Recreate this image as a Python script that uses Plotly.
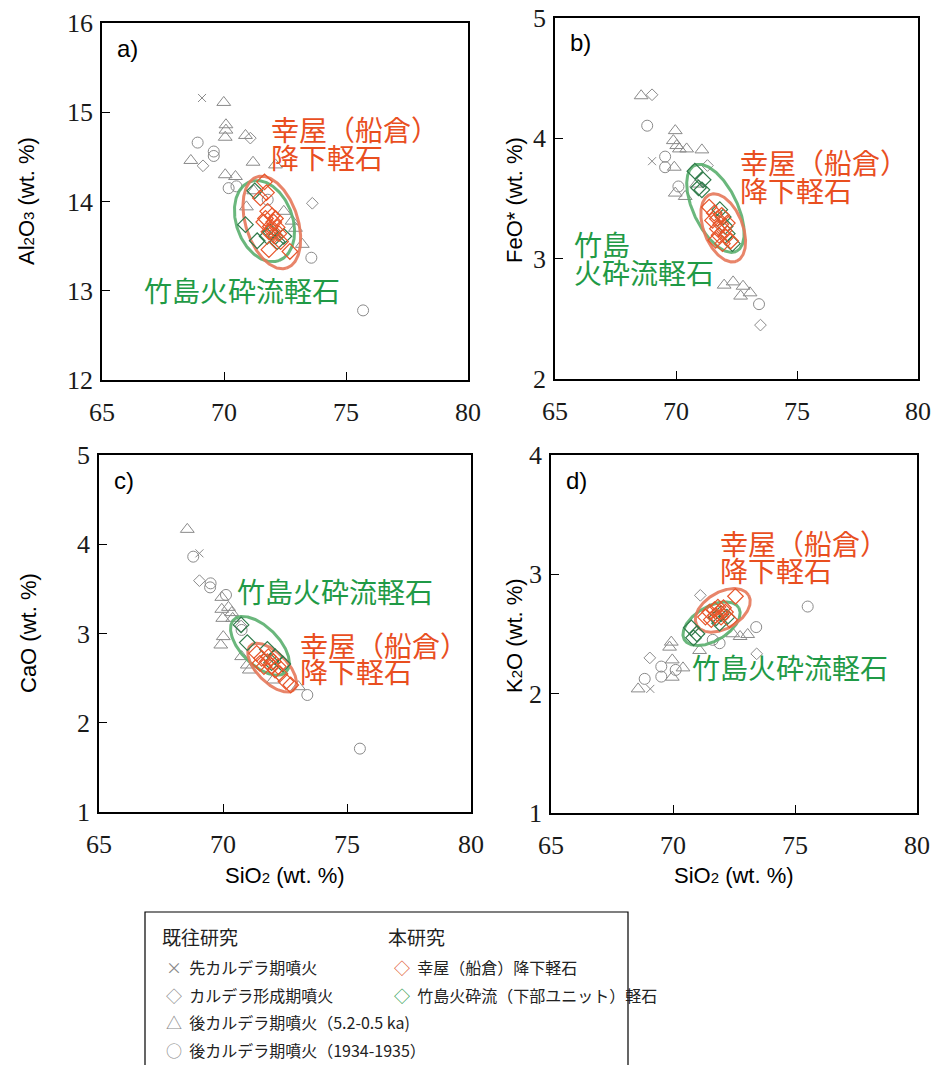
import numpy as np
import plotly.graph_objects as go

W, H = 932, 1065

# ---------------- data (SiO2, oxide) ----------------
# Panel a: Al2O3
a_pre = [(69.10, 15.16)]
a_cald = [(71.08, 14.71), (69.14, 14.40), (73.62, 13.98)]
a_post = [(69.99, 15.11), (70.08, 14.86), (70.08, 14.80), (70.05, 14.72), (70.88, 14.74),
          (68.64, 14.46), (71.19, 14.44), (72.11, 14.41), (70.05, 14.30), (70.47, 14.28),
          (70.92, 13.94), (72.45, 13.89), (72.79, 13.78), (72.93, 13.70), (73.21, 13.52),
          (71.22, 14.12)]
a_hist = [(68.92, 14.66), (69.58, 14.56), (69.58, 14.51), (70.19, 14.15), (70.51, 14.17),
          (71.79, 14.02), (73.58, 13.37), (75.70, 12.78)]
a_koya = [(71.66, 14.22), (71.74, 14.10), (71.49, 14.04), (71.79, 13.89), (71.97, 13.84),
          (71.70, 13.81), (72.04, 13.77), (71.90, 13.72), (72.18, 13.71), (72.01, 13.66),
          (71.84, 13.66), (72.25, 13.64), (72.04, 13.62), (72.32, 13.55), (71.84, 13.46),
          (72.70, 13.44), (71.63, 13.77), (72.11, 13.81)]
a_take = [(71.26, 14.12), (70.88, 13.74), (71.36, 13.56), (71.90, 13.66), (72.11, 13.61),
          (72.45, 13.61), (72.18, 13.55), (71.77, 13.61)]
# ellipse: centre x, centre y, axis-1 (dx, dy), axis-2 (dx, dy)
a_ell_koya = (71.96, 13.765, 0.608, -0.511, 1.015, 0.090)
a_ell_take = (71.66, 13.78, 0.590, -0.442, 1.082, 0.107)

# Panel b: FeO*
b_pre = [(69.01, 3.810)]
b_cald = [(69.01, 4.362), (71.30, 3.774), (73.49, 2.448)]
b_post = [(68.56, 4.354), (69.97, 4.064), (69.89, 3.981), (70.03, 3.940), (70.14, 3.912),
          (70.44, 3.912), (71.07, 3.904), (69.93, 3.760), (69.97, 3.545), (70.38, 3.517),
          (70.85, 3.62), (71.99, 2.780), (72.36, 2.807), (72.77, 2.771), (72.67, 2.689),
          (73.06, 2.716)]
b_hist = [(68.81, 4.105), (69.55, 3.848), (69.55, 3.760), (70.10, 3.600), (73.43, 2.622)]
b_koya = [(71.37, 3.429), (71.58, 3.379), (71.71, 3.332), (71.51, 3.318), (71.85, 3.285),
          (71.71, 3.249), (71.99, 3.235), (71.78, 3.194), (72.06, 3.180), (71.64, 3.153),
          (71.92, 3.125), (72.26, 3.147), (71.89, 3.360), (72.12, 3.296)]
b_take = [(70.78, 3.727), (71.12, 3.655), (70.93, 3.589), (71.07, 3.572), (71.81, 3.407),
          (71.95, 3.346), (72.03, 3.269), (72.33, 3.125), (72.12, 3.208)]
b_ell_koya = (71.95, 3.256, 0.549, -0.277, 0.744, 0.060)
b_ell_take = (71.63, 3.418, 0.865, -0.357, 0.813, 0.080)

# Panel c: CaO
c_pre = [(69.05, 3.898)]
c_cald = [(69.05, 3.592), (70.73, 3.084)]
c_post = [(68.56, 4.167), (69.95, 3.405), (69.95, 3.271), (70.22, 3.293), (69.99, 3.170),
          (70.35, 3.234), (70.39, 3.170), (70.01, 2.965), (69.91, 2.871), (70.75, 2.741),
          (70.98, 2.647), (71.06, 2.591), (72.03, 2.479), (73.04, 2.404)]
c_hist = [(68.80, 3.861), (69.50, 3.562), (69.48, 3.517), (70.12, 3.432), (70.75, 3.04),
          (73.40, 2.311), (75.52, 1.71)]
c_koya = [(71.36, 2.778), (71.56, 2.722), (71.79, 2.685), (71.96, 2.636), (71.65, 2.629),
          (72.10, 2.591), (72.23, 2.629), (72.30, 2.547), (71.49, 2.666), (72.54, 2.461),
          (72.73, 2.423), (71.83, 2.741), (72.03, 2.685)]
c_take = [(70.73, 3.096), (70.98, 2.898), (71.79, 2.823), (72.10, 2.741), (72.41, 2.658),
          (71.96, 2.673)]
c_ell_koya = (71.98, 2.617, 0.884, -0.246, 0.428, 0.119)
c_ell_take = (71.49, 2.862, 1.055, -0.293, 0.542, 0.150)

# Panel d: K2O
d_pre = [(69.07, 2.040)]
d_cald = [(71.12, 2.824), (69.05, 2.300), (73.43, 2.334)]
d_post = [(69.93, 2.432), (69.86, 2.390), (69.97, 2.283), (69.97, 2.138), (70.41, 2.216),
          (68.57, 2.040), (71.09, 2.362), (72.45, 2.502), (72.75, 2.479), (73.06, 2.496)]
d_hist = [(69.52, 2.227), (69.52, 2.143), (70.11, 2.199), (68.84, 2.124), (71.63, 2.451),
          (71.91, 2.423), (73.41, 2.558), (75.52, 2.73)]
d_koya = [(72.56, 2.816), (71.33, 2.642), (71.50, 2.684), (71.70, 2.704), (71.91, 2.684),
          (71.74, 2.656), (71.57, 2.620), (71.97, 2.642), (72.15, 2.684), (72.32, 2.619),
          (71.84, 2.726), (72.07, 2.720)]
d_take = [(70.75, 2.552), (70.98, 2.502), (70.84, 2.468), (71.97, 2.670), (72.21, 2.642),
          (71.77, 2.636), (71.91, 2.591)]
d_ell_koya = (72.04, 2.698, 1.062, 0.126, -0.370, 0.132)
d_ell_take = (71.58, 2.586, 1.118, 0.133, -0.351, 0.125)

x_ticks = [65, 70, 75, 80]
y_ranges = {"a": [12, 16], "b": [2, 5], "c": [1, 5], "d": [1, 4]}
y_ticks = {"a": [12, 13, 14, 15, 16], "b": [2, 3, 4, 5], "c": [1, 2, 3, 4, 5], "d": [1, 2, 3, 4]}

# ---------------- styling ----------------
GRAY = "#8a8a8a"
ORANGE_M = "#e8552a"
GREEN_M = "#2f7a4a"
ORANGE_E = "rgba(230,120,90,0.9)"
GREEN_E = "rgba(90,175,110,0.9)"
ORANGE_T = "#e94f1f"
GREEN_T = "#1f9a46"
JP = "Noto Sans CJK JP"
SERIF = "Liberation Serif"
SANS = "Liberation Sans"


def px2x(px):
    return px / W


def py2y(py):
    return 1 - py / H


# panel pixel boxes: left, top, right, bottom
boxes = {"a": (102, 23, 468, 380), "b": (555, 18, 918, 379),
         "c": (99, 455, 471, 812), "d": (551, 455, 917, 813)}

data = {
    "a": (a_pre, a_cald, a_post, a_hist, a_koya, a_take, a_ell_koya, a_ell_take),
    "b": (b_pre, b_cald, b_post, b_hist, b_koya, b_take, b_ell_koya, b_ell_take),
    "c": (c_pre, c_cald, c_post, c_hist, c_koya, c_take, c_ell_koya, c_ell_take),
    "d": (d_pre, d_cald, d_post, d_hist, d_koya, d_take, d_ell_koya, d_ell_take),
}

fig = go.Figure()
t = np.linspace(0, 2 * np.pi, 240)


def ellipse(p):
    cx, cy, ux, uy, vx, vy = p
    return cx + ux * np.cos(t) + vx * np.sin(t), cy + uy * np.cos(t) + vy * np.sin(t)


for i, k in enumerate(["a", "b", "c", "d"]):
    sfx = "" if i == 0 else str(i + 1)
    xa, ya = "x" + sfx, "y" + sfx
    pre, cald, post, hist, koya, take, ek, et = data[k]

    def sc(pts, symbol, color, size, lw=1.0):
        fig.add_trace(go.Scatter(
            x=[p[0] for p in pts], y=[p[1] for p in pts], mode="markers",
            marker=dict(symbol=symbol, size=size, color=color,
                        line=dict(color=color, width=lw)),
            xaxis=xa, yaxis=ya, showlegend=False, hoverinfo="x+y"))

    sc(pre, "x-thin-open", GRAY, 8)
    sc(cald, "diamond-open", GRAY, 9)
    sc(post, "triangle-up-open", GRAY, 12)
    sc(hist, "circle-open", GRAY, 11)
    for p, col in ((et, GREEN_E), (ek, ORANGE_E)):
        ex, ey = ellipse(p)
        fig.add_trace(go.Scatter(x=ex, y=ey, mode="lines", line=dict(color=col, width=3),
                                 xaxis=xa, yaxis=ya, showlegend=False, hoverinfo="skip"))
    sc(take, "diamond-open", GREEN_M, 12, 1.2)
    sc(koya, "diamond-open", ORANGE_M, 12, 1.2)

    l, tp, r, b = boxes[k]
    axis_common = dict(showline=True, mirror=True, linecolor="black", linewidth=1.5,
                       ticks="inside", ticklen=8, tickwidth=1.2, tickcolor="black",
                       showgrid=False, zeroline=False, automargin=False,
                       tickfont=dict(family=SERIF, size=26, color="#1a1a1a"))
    fig.update_layout(**{
        "xaxis" + sfx: dict(axis_common, domain=[px2x(l), px2x(r)], range=[65, 80],
                            tickvals=x_ticks, anchor=ya, ticklabelstandoff=8),
        "yaxis" + sfx: dict(axis_common, domain=[py2y(b), py2y(tp)], range=y_ranges[k],
                            tickvals=y_ticks[k], anchor=xa, ticklabelstandoff=2),
    })
    # panel letter
    fig.add_annotation(x=px2x(l + 13), y=py2y(tp + 25), xref="paper", yref="paper",
                       text=k + ")", showarrow=False, xanchor="left", yanchor="middle",
                       font=dict(family=SANS, size=24, color="black"))

# axis titles
sub = '<span style="font-size:15px">{}</span>'
ytitles = [
    ("Al" + sub.format("2") + "O" + sub.format("3") + " (wt. %)", 27, 201),
    ("FeO* (wt. %)", 514, 200),
    ("CaO (wt. %)", 28, 633),
    ("K" + sub.format("2") + "O (wt. %)", 514, 636),
]
for txt, x, y in ytitles:
    fig.add_annotation(x=px2x(x), y=py2y(y), xref="paper", yref="paper", text=txt,
                       textangle=-90, showarrow=False, xanchor="center", yanchor="middle",
                       font=dict(family=SANS, size=22, color="black"))
for x in (285, 734):
    fig.add_annotation(x=px2x(x), y=py2y(875), xref="paper", yref="paper",
                       text="SiO" + sub.format("2") + " (wt. %)", showarrow=False,
                       xanchor="center", yanchor="middle",
                       font=dict(family=SANS, size=22, color="black"))

# in-plot labels
labels = [
    ("幸屋（船倉）", 269, 129, ORANGE_T), ("降下軽石", 269, 157, ORANGE_T),
    ("竹島火砕流軽石", 142, 290, GREEN_T),
    ("幸屋（船倉）", 738, 162, ORANGE_T), ("降下軽石", 738, 190, ORANGE_T),
    ("竹島", 572, 244, GREEN_T), ("火砕流軽石", 572, 272, GREEN_T),
    ("竹島火砕流軽石", 235, 591, GREEN_T),
    ("幸屋（船倉）", 298, 645, ORANGE_T), ("降下軽石", 298, 671, ORANGE_T),
    ("幸屋（船倉）", 718, 543, ORANGE_T), ("降下軽石", 718, 570, ORANGE_T),
    ("竹島火砕流軽石", 690, 667, GREEN_T),
]
for txt, x, y, col in labels:
    fig.add_annotation(x=px2x(x), y=py2y(y), xref="paper", yref="paper", text=txt,
                       showarrow=False, xanchor="left", yanchor="middle",
                       font=dict(family=JP, size=28, color=col))

# legend box
fig.add_shape(type="rect", xref="paper", yref="paper", x0=px2x(145), x1=px2x(628),
              y0=-0.02, y1=py2y(912), line=dict(color="black", width=1.2))
legend_rows = [
    ("既往研究", 160, 936, 19),
    ('<span style="color:#888">×</span>  先カルデラ期噴火', 164, 967, 16),
    ('<span style="color:#888">◇</span>  カルデラ形成期噴火', 164, 995, 16),
    ('<span style="color:#888">△</span>  後カルデラ期噴火（5.2-0.5 ka)', 164, 1022, 16),
    ('<span style="color:#888">○</span>  後カルデラ期噴火（1934-1935）', 164, 1050, 16),
    ("本研究", 386, 936, 19),
    ('<span style="color:#e0532a">◇</span>  幸屋（船倉）降下軽石', 392, 967, 16),
    ('<span style="color:#2a9a4a">◇</span>  竹島火砕流（下部ユニット）軽石', 392, 995, 16),
]
for txt, x, y, fs in legend_rows:
    fig.add_annotation(x=px2x(x), y=py2y(y), xref="paper", yref="paper", text=txt,
                       showarrow=False, xanchor="left", yanchor="middle",
                       font=dict(family=JP, size=fs, color="#222"))

fig.update_layout(width=W, height=H, autosize=False,
                  margin=dict(l=0, r=0, t=0, b=0, autoexpand=False),
                  paper_bgcolor="white", plot_bgcolor="white", showlegend=False)

fig.write_html("out.html", config={"displayModeBar": False},
               post_script="document.body.style.margin='0';document.body.style.padding='0';"
                           "document.documentElement.style.overflow='hidden';")
